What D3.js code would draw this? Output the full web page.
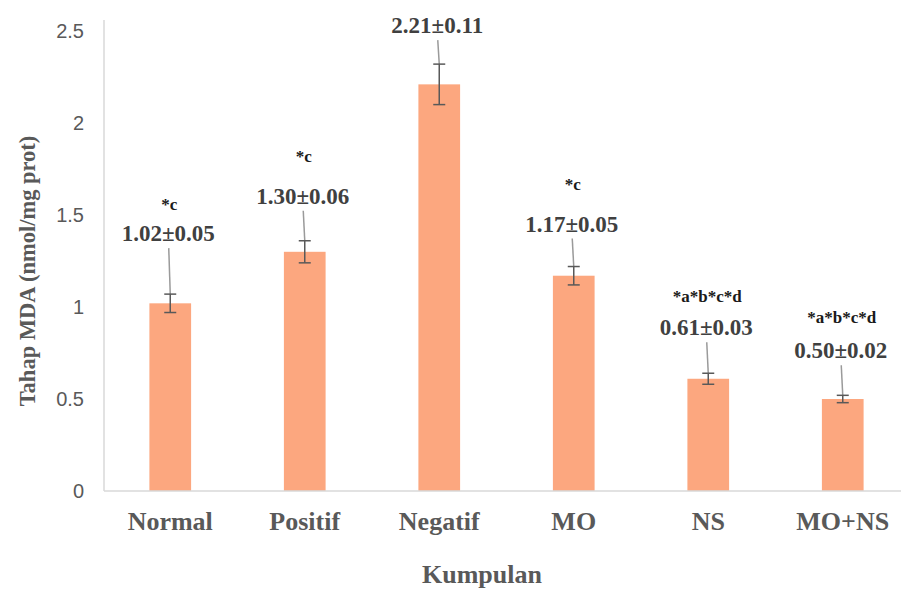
<!DOCTYPE html>
<html>
<head>
<meta charset="utf-8">
<script src="https://cdn.jsdelivr.net/npm/d3@7"></script>
<style>
  body { margin: 0; background: #fff; }
  svg { display: block; }
  .tick text { font-family: "Liberation Sans", Arial, sans-serif; font-size: 20px; fill: #595959; }
</style>
</head>
<body>
<div id="graf"></div>
<script>
// datos
const kumpulan = ["Normal", "Positif", "Negatif", "MO", "NS", "MO+NS"];
const purata = [1.02, 1.30, 2.21, 1.17, 0.61, 0.50];
const sisihan = [0.05, 0.06, 0.11, 0.05, 0.03, 0.02];
const signifikan = ["*c", "*c", "", "*c", "*a*b*c*d", "*a*b*c*d"];
const yTicks = [0, 0.5, 1, 1.5, 2, 2.5];

// layout of the annotation (px)
const garisPanjang = [46, 30, 24, 28, 31, 30];
const bintangJarak = [31, 42, 0, 42, 33, 35];

const ancho_total = 901;
const alto_total = 590;
const serif = "'Liberation Serif', 'Times New Roman', serif";

const svg = d3.select("#graf")
  .append("svg")
  .attr("width", ancho_total)
  .attr("height", alto_total);

const x = d3.scaleBand()
  .domain(kumpulan)
  .range([103, 910])
  .paddingInner(0.69)
  .paddingOuter(0.345);

const y = d3.scaleLinear().domain([0, 2.5]).range([491, 31]);

// axis lines
svg.append("line")
  .attr("x1", 104).attr("x2", 104)
  .attr("y1", 20).attr("y2", y(0))
  .attr("stroke", "#d9d9d9").attr("stroke-width", 1.5);

const yAxis = svg.append("g")
  .attr("transform", "translate(104,0)")
  .call(d3.axisLeft(y).tickValues(yTicks).tickSize(0).tickPadding(20).tickFormat(d3.format("~g")));
yAxis.select(".domain").remove();

// bars
svg.selectAll(".bar")
  .data(purata)
  .enter()
  .append("rect")
  .attr("class", "bar")
  .attr("x", (d, i) => x(kumpulan[i]))
  .attr("y", (d) => y(d))
  .attr("width", x.bandwidth())
  .attr("height", (d) => y(0) - y(d))
  .attr("fill", "#FCA77F");

svg.append("line")
  .attr("x1", 104).attr("x2", ancho_total)
  .attr("y1", y(0)).attr("y2", y(0))
  .attr("stroke", "#d9d9d9").attr("stroke-width", 1.5);

// error bars + labels
purata.forEach((m, i) => {
  const cx = x(kumpulan[i]) + x.bandwidth() / 2;
  const atas = y(m + sisihan[i]);
  const bawah = y(m - sisihan[i]);
  const g = svg.append("g");

  const topGaris = atas - garisPanjang[i];
  g.append("line")
    .attr("x1", cx - 1.5).attr("x2", cx)
    .attr("y1", topGaris).attr("y2", atas)
    .attr("stroke", "#9a9a9a").attr("stroke-width", 1.5);

  g.append("line")
    .attr("x1", cx).attr("x2", cx)
    .attr("y1", atas).attr("y2", bawah)
    .attr("stroke", "#595959").attr("stroke-width", 1.5);
  [atas, bawah].forEach((yy) => {
    g.append("line")
      .attr("x1", cx - 6).attr("x2", cx + 6)
      .attr("y1", yy).attr("y2", yy)
      .attr("stroke", "#595959").attr("stroke-width", 1.5);
  });

  const valY = topGaris - 7;
  g.append("text")
    .attr("x", cx - 2)
    .attr("y", valY)
    .attr("text-anchor", "middle")
    .style("font-family", serif)
    .style("font-weight", "bold")
    .style("font-size", "23px")
    .style("fill", "#404040")
    .text(m.toFixed(2) + "±" + sisihan[i].toFixed(2));

  if (signifikan[i]) {
    g.append("text")
      .attr("x", cx - 1)
      .attr("y", valY - bintangJarak[i])
      .attr("text-anchor", "middle")
      .style("font-family", serif)
      .style("font-weight", "bold")
      .style("font-size", "17px")
      .style("fill", "#1a1a1a")
      .text(signifikan[i]);
  }
});

// category labels
svg.selectAll(".cat")
  .data(kumpulan)
  .enter()
  .append("text")
  .attr("class", "cat")
  .attr("x", (d) => x(d) + x.bandwidth() / 2)
  .attr("y", 530)
  .attr("text-anchor", "middle")
  .style("font-family", serif)
  .style("font-weight", "bold")
  .style("font-size", "26px")
  .style("fill", "#595959")
  .text((d) => d);

// axis titles
svg.append("text")
  .attr("x", 482)
  .attr("y", 583)
  .attr("text-anchor", "middle")
  .style("font-family", serif)
  .style("font-weight", "bold")
  .style("font-size", "26px")
  .style("fill", "#595959")
  .text("Kumpulan");

svg.append("text")
  .attr("transform", "translate(35,271) rotate(-90)")
  .attr("text-anchor", "middle")
  .style("font-family", serif)
  .style("font-weight", "bold")
  .style("font-size", "22.5px")
  .style("fill", "#595959")
  .text("Tahap MDA (nmol/mg prot)");
</script>
</body>
</html>
